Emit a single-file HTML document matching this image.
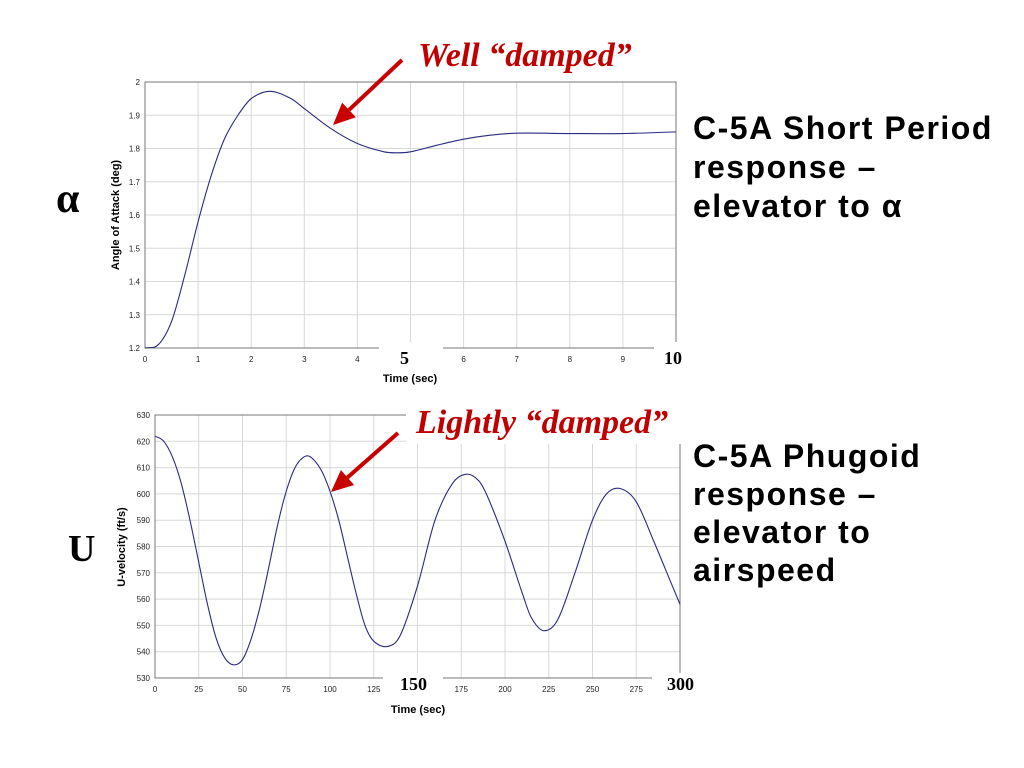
<!DOCTYPE html>
<html><head><meta charset="utf-8"><style>
body{margin:0;background:#fff;width:1024px;height:768px;overflow:hidden}
svg{display:block}
.tk{font-family:"Liberation Sans",sans-serif;font-size:8px;fill:#222}
.ax{font-family:"Liberation Sans",sans-serif;font-size:11px;font-weight:bold;fill:#000}
.rt{font-family:"Liberation Sans",sans-serif;font-size:32px;font-weight:bold;fill:#000;letter-spacing:1.5px}
.ann{font-family:"Liberation Serif",serif;font-size:34px;font-weight:bold;font-style:italic;fill:#c00000}
.big{font-family:"Liberation Serif",serif;font-size:18px;font-weight:bold;fill:#000}
</style></head><body>
<svg id="s" width="1024" height="768"></svg>
<script>
const alphaT=[0,0.25,0.5,0.75,1,1.25,1.5,1.75,2,2.35,2.75,3,3.5,4,4.5,4.75,5,5.5,6,6.5,7,8,9,10];
const alphaV=[1.2,1.21,1.28,1.42,1.58,1.72,1.83,1.9,1.95,1.972,1.95,1.92,1.86,1.815,1.79,1.787,1.79,1.81,1.828,1.84,1.846,1.845,1.845,1.85];
const uT=[0,5,10,15,20,25,30,35,40,45,50,55,60,65,70,75,80,85,89,95,100,105,110,115,120,125,133,140,150,160,170,178,185,190,200,210,215,222,230,240,250,258,266,275,285,295,300];
const uV=[622,620,614,604,590,574,558,545,537.5,535,537,545,557,572,588,601,610,614,614,609,601,590,576,562,550,544,542,546,565,590,604,607.5,605,599,582,562,553,548,552,570,590,600,602,597,582,566,558];
const alphaYTicks=["1.2","1.3","1.4","1.5","1.6","1.7","1.8","1.9","2"];
const alphaXTicks=["0","1","2","3","4","","6","7","8","9",""];
const uYTicks=["530","540","550","560","570","580","590","600","610","620","630"];
const uXTicks=["0","25","50","75","100","125","","175","200","225","250","275",""];
const NS="http://www.w3.org/2000/svg";
const svg=document.getElementById('s');
function mk(tag,at,txt){const e=document.createElementNS(NS,tag);for(const k in at)e.setAttribute(k,at[k]);if(txt!=null)e.textContent=txt;svg.appendChild(e);return e;}
function path(pts){const n=pts.length;const m=pts.map((p,i)=>{const a=pts[Math.max(0,i-1)],b=pts[Math.min(n-1,i+1)];return (b[1]-a[1])/(b[0]-a[0]);});
 let d=`M${pts[0][0]},${pts[0][1]}`;
 for(let i=0;i<n-1;i++){const p1=pts[i],p2=pts[i+1],dx=(p2[0]-p1[0])/3;
  d+=`C${p1[0]+dx},${p1[1]+m[i]*dx} ${p2[0]-dx},${p2[1]-m[i+1]*dx} ${p2[0]},${p2[1]}`;}
 return d;}
function chart(o){
 const X=v=>o.x0+(v-o.xmin)/(o.xmax-o.xmin)*(o.x1-o.x0);
 const Y=v=>o.y1-(v-o.ymin)/(o.ymax-o.ymin)*(o.y1-o.y0);
 o.yt.forEach((t,i)=>{const v=o.ymin+i*o.ys;const y=Y(v);
  const g=mk('line',{x1:o.x0,x2:o.x1,y1:y,y2:y,stroke:'#d8d8d8','stroke-width':1});
  
  const l=mk('text',{x:o.x0-5,y:y+3,'text-anchor':'end',class:'tk'},t);
  });
 o.xt.forEach((t,i)=>{const v=o.xmin+i*o.xs;const x=X(v);
  const g=mk('line',{x1:x,x2:x,y1:o.y0,y2:o.y1,stroke:'#d8d8d8','stroke-width':1});
  
  if(t){const l=mk('text',{x:x,y:o.y1+14,'text-anchor':'middle',class:'tk'},t);
  }});
 const f=mk('path',{d:`M${o.x0},${o.y0}H${o.x1}V${o.y1}H${o.x0}Z`,fill:'none',stroke:'#777','stroke-width':1});
 
 const ln=mk('path',{d:path(o.t.map((t,i)=>[X(t),Y(o.v[i])])),fill:'none',stroke:'#2a2a80','stroke-width':1.1});
 
 return {X,Y};
}
chart({id:'alpha',x0:145,x1:676,y0:82,y1:348,xmin:0,xmax:10,ymin:1.2,ymax:2,xs:1,ys:0.1,xt:alphaXTicks,yt:alphaYTicks,t:alphaT,v:alphaV});
chart({id:'u',x0:155,x1:680,y0:415,y1:678,xmin:0,xmax:300,ymin:530,ymax:630,xs:25,ys:10,xt:uXTicks,yt:uYTicks,t:uT,v:uV});
[[379,342,64,20],[654,342,40,20],[677,336,10,12],[383,673,60,22],[652,673,50,22],[406,400,280,44]].forEach(r=>{mk('rect',{x:r[0],y:r[1],width:r[2],height:r[3],fill:'#fff'});});
const txt=(x,y,cls,s,name,extra)=>{const e=mk('text',Object.assign({x,y,class:cls},extra||{}),s);return e;};
txt(400,364,'big','5','alpha-x-label-5');
txt(664,364,'big','10','alpha-x-label-10');
txt(400,690,'big','150','u-x-label-150');
txt(667,690,'big','300','u-x-label-300');
txt(410,382,'ax','Time (sec)','alpha-x-axis-title',{'text-anchor':'middle'});
txt(418,713,'ax','Time (sec)','u-x-axis-title',{'text-anchor':'middle'});
txt(0,0,'ax','Angle of Attack (deg)','alpha-y-axis-title',{'text-anchor':'middle',transform:'translate(119,215) rotate(-90)'});
txt(0,0,'ax','U-velocity (ft/s)','u-y-axis-title',{'text-anchor':'middle',transform:'translate(125,547) rotate(-90)'});
txt(418,66,'ann','Well “damped”','well-damped-label');
txt(416,433,'ann','Lightly “damped”','lightly-damped-label');
txt(56,212,'rt','α','alpha-symbol',{style:'font-family:"Liberation Serif",serif;font-weight:bold;font-size:42px;letter-spacing:0'});
txt(68,561,'rt','U','u-symbol',{style:'font-family:"Liberation Serif",serif;font-weight:bold;font-size:38px;letter-spacing:0'});
[['C-5A Short Period',139],['response –',178],['elevator to α',217]].forEach(a=>txt(693,a[1],'rt',a[0],'short-period-title'));
[['C-5A Phugoid',467],['response –',505],['elevator to',543],['airspeed',581]].forEach(a=>txt(693,a[1],'rt',a[0],'phugoid-title'));
function arrow(x1,y1,x2,y2,name){const a=Math.atan2(y2-y1,x2-x1),L=22,W=10;
 const bx=x2-L*Math.cos(a),by=y2-L*Math.sin(a);
 const l=mk('line',{x1,y1,x2:bx,y2:by,stroke:'#c80000','stroke-width':4});
 
 const p=mk('polygon',{points:`${x2},${y2} ${bx+W*Math.sin(a)},${by-W*Math.cos(a)} ${bx-W*Math.sin(a)},${by+W*Math.cos(a)}`,fill:'#c80000'});
 }
arrow(402,60,333,125,'well-damped-arrow');
arrow(398,433,331,492,'lightly-damped-arrow');
</script>
</body></html>
